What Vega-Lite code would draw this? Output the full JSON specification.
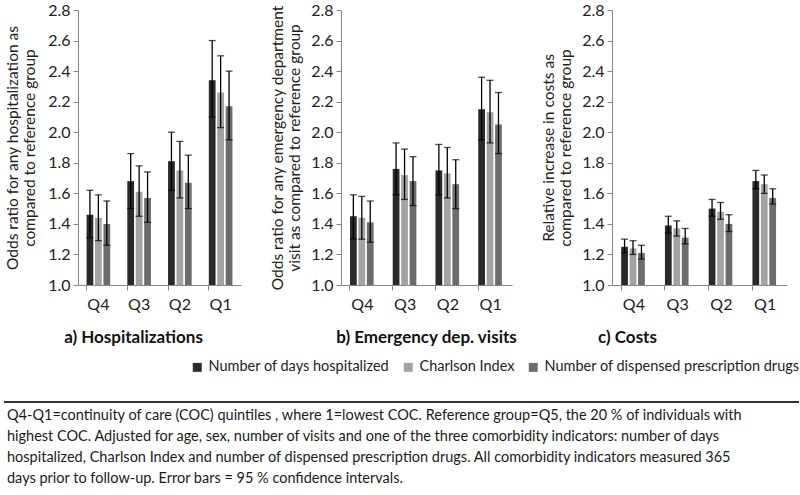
{
  "$schema": "https://vega.github.io/schema/vega-lite/v6.json",
  "padding": {"left": 3, "top": 2, "right": 0, "bottom": 0},
  "background": "white",
  "config": {
    "font": "Lato",
    "view": {"stroke": null},
    "axis": {
      "grid": false,
      "domainColor": "#868686",
      "tickColor": "#868686",
      "labelColor": "#222222",
      "titleColor": "#222222",
      "labelFont": "Lato",
      "titleFont": "Lato",
      "labelFontSize": 16,
      "titleFontSize": 15.5,
      "titleFontWeight": "normal",
      "tickSize": 5
    },
    "axisY": {"labelOverlap": false, "titlePadding": 10, "labelPadding": 3},
    "title": {"font": "Lato", "fontSize": 17, "fontWeight": "bold", "color": "#111111"}
  },
  "datasets": {
    "d": [
      {"panel": "a", "q": "Q4", "ind": "Number of days hospitalized", "v": 1.46, "lo": 1.31, "hi": 1.62},
      {"panel": "a", "q": "Q4", "ind": "Charlson Index", "v": 1.44, "lo": 1.29, "hi": 1.59},
      {"panel": "a", "q": "Q4", "ind": "Number of dispensed prescription drugs", "v": 1.40, "lo": 1.26, "hi": 1.55},
      {"panel": "a", "q": "Q3", "ind": "Number of days hospitalized", "v": 1.68, "lo": 1.50, "hi": 1.86},
      {"panel": "a", "q": "Q3", "ind": "Charlson Index", "v": 1.61, "lo": 1.45, "hi": 1.78},
      {"panel": "a", "q": "Q3", "ind": "Number of dispensed prescription drugs", "v": 1.57, "lo": 1.41, "hi": 1.74},
      {"panel": "a", "q": "Q2", "ind": "Number of days hospitalized", "v": 1.81, "lo": 1.62, "hi": 2.00},
      {"panel": "a", "q": "Q2", "ind": "Charlson Index", "v": 1.75, "lo": 1.57, "hi": 1.94},
      {"panel": "a", "q": "Q2", "ind": "Number of dispensed prescription drugs", "v": 1.67, "lo": 1.50, "hi": 1.85},
      {"panel": "a", "q": "Q1", "ind": "Number of days hospitalized", "v": 2.34, "lo": 2.10, "hi": 2.60},
      {"panel": "a", "q": "Q1", "ind": "Charlson Index", "v": 2.26, "lo": 2.03, "hi": 2.50},
      {"panel": "a", "q": "Q1", "ind": "Number of dispensed prescription drugs", "v": 2.17, "lo": 1.95, "hi": 2.40},
      {"panel": "b", "q": "Q4", "ind": "Number of days hospitalized", "v": 1.45, "lo": 1.30, "hi": 1.59},
      {"panel": "b", "q": "Q4", "ind": "Charlson Index", "v": 1.44, "lo": 1.30, "hi": 1.58},
      {"panel": "b", "q": "Q4", "ind": "Number of dispensed prescription drugs", "v": 1.41, "lo": 1.28, "hi": 1.55},
      {"panel": "b", "q": "Q3", "ind": "Number of days hospitalized", "v": 1.76, "lo": 1.59, "hi": 1.93},
      {"panel": "b", "q": "Q3", "ind": "Charlson Index", "v": 1.72, "lo": 1.56, "hi": 1.89},
      {"panel": "b", "q": "Q3", "ind": "Number of dispensed prescription drugs", "v": 1.68, "lo": 1.52, "hi": 1.84},
      {"panel": "b", "q": "Q2", "ind": "Number of days hospitalized", "v": 1.75, "lo": 1.59, "hi": 1.92},
      {"panel": "b", "q": "Q2", "ind": "Charlson Index", "v": 1.73, "lo": 1.57, "hi": 1.90},
      {"panel": "b", "q": "Q2", "ind": "Number of dispensed prescription drugs", "v": 1.66, "lo": 1.50, "hi": 1.82},
      {"panel": "b", "q": "Q1", "ind": "Number of days hospitalized", "v": 2.15, "lo": 1.95, "hi": 2.36},
      {"panel": "b", "q": "Q1", "ind": "Charlson Index", "v": 2.13, "lo": 1.93, "hi": 2.34},
      {"panel": "b", "q": "Q1", "ind": "Number of dispensed prescription drugs", "v": 2.05, "lo": 1.86, "hi": 2.26},
      {"panel": "c", "q": "Q4", "ind": "Number of days hospitalized", "v": 1.25, "lo": 1.21, "hi": 1.30},
      {"panel": "c", "q": "Q4", "ind": "Charlson Index", "v": 1.24, "lo": 1.20, "hi": 1.29},
      {"panel": "c", "q": "Q4", "ind": "Number of dispensed prescription drugs", "v": 1.21, "lo": 1.17, "hi": 1.26},
      {"panel": "c", "q": "Q3", "ind": "Number of days hospitalized", "v": 1.39, "lo": 1.34, "hi": 1.45},
      {"panel": "c", "q": "Q3", "ind": "Charlson Index", "v": 1.37, "lo": 1.32, "hi": 1.42},
      {"panel": "c", "q": "Q3", "ind": "Number of dispensed prescription drugs", "v": 1.31, "lo": 1.27, "hi": 1.37},
      {"panel": "c", "q": "Q2", "ind": "Number of days hospitalized", "v": 1.50, "lo": 1.45, "hi": 1.56},
      {"panel": "c", "q": "Q2", "ind": "Charlson Index", "v": 1.48, "lo": 1.43, "hi": 1.54},
      {"panel": "c", "q": "Q2", "ind": "Number of dispensed prescription drugs", "v": 1.40, "lo": 1.35, "hi": 1.46},
      {"panel": "c", "q": "Q1", "ind": "Number of days hospitalized", "v": 1.68, "lo": 1.63, "hi": 1.75},
      {"panel": "c", "q": "Q1", "ind": "Charlson Index", "v": 1.66, "lo": 1.60, "hi": 1.72},
      {"panel": "c", "q": "Q1", "ind": "Number of dispensed prescription drugs", "v": 1.57, "lo": 1.53, "hi": 1.63}
    ],
    "note": [
      {"line": 1, "text": "Q4-Q1=continuity of care (COC) quintiles , where 1=lowest COC. Reference group=Q5, the 20 % of individuals with"},
      {"line": 2, "text": "highest COC. Adjusted for age, sex, number of visits and one of the three comorbidity indicators: number of days"},
      {"line": 3, "text": "hospitalized, Charlson Index and number of dispensed prescription drugs. All comorbidity indicators measured 365"},
      {"line": 4, "text": "days prior to follow-up. Error bars = 95 % confidence intervals."}
    ]
  },
  "spacing": 55,
  "vconcat": [
    {
      "hconcat": [
        {
          "width": 163, "height": 275,
          "data": {"name": "d"},
          "transform": [{"filter": "datum.panel === 'a'"}],
          "title": {"text": "a) Hospitalizations", "orient": "bottom", "offset": 18, "dx": -26},
          "encoding": {
            "x": {"field": "q", "type": "nominal", "sort": ["Q4", "Q3", "Q2", "Q1"], "scale": {"paddingInner": 0.42, "paddingOuter": 0.21},
                  "axis": {"title": null, "labelAngle": 0, "bandPosition": 0, "labelPadding": 6}},
            "xOffset": {"field": "ind", "type": "nominal", "sort": ["Number of days hospitalized", "Charlson Index", "Number of dispensed prescription drugs"], "scale": {"paddingInner": 0.2}}
          },
          "layer": [
            {"mark": {"type": "bar"},
             "encoding": {
               "y": {"field": "v", "type": "quantitative", "scale": {"domain": [1, 2.8], "zero": false, "nice": false},
                     "axis": {"title": ["Odds ratio for any hospitalization as", "compared to reference group"], "values": [1, 1.2, 1.4, 1.6, 1.8, 2, 2.2, 2.4, 2.6, 2.8], "format": ".1f"}},
               "y2": {"datum": 1},
               "color": {"field": "ind", "type": "nominal", "sort": ["Number of days hospitalized", "Charlson Index", "Number of dispensed prescription drugs"],
                         "scale": {"domain": ["Number of days hospitalized", "Charlson Index", "Number of dispensed prescription drugs"], "range": ["#2a2a2a", "#a3a3a3", "#6c6c6c"]},
                         "legend": {"title": null, "orient": "none", "direction": "horizontal", "legendX": 112, "legendY": 350, "symbolType": "square", "symbolSize": 80, "symbolStrokeWidth": 0, "labelFontSize": 14.5, "labelLimit": 0, "labelColor": "#222222", "columnPadding": 11, "labelOffset": 4}}
             }},
            {"mark": {"type": "rule", "color": "#000000", "strokeWidth": 1.3},
             "encoding": {"y": {"field": "lo", "type": "quantitative", "axis": {"title": ["Odds ratio for any hospitalization as", "compared to reference group"], "values": [1, 1.2, 1.4, 1.6, 1.8, 2, 2.2, 2.4, 2.6, 2.8], "format": ".1f"}}, "y2": {"field": "hi"}}},
            {"mark": {"type": "tick", "color": "#000000", "thickness": 1.3, "size": 7},
             "encoding": {"y": {"field": "lo", "type": "quantitative", "axis": {"title": ["Odds ratio for any hospitalization as", "compared to reference group"], "values": [1, 1.2, 1.4, 1.6, 1.8, 2, 2.2, 2.4, 2.6, 2.8], "format": ".1f"}}}},
            {"mark": {"type": "tick", "color": "#000000", "thickness": 1.3, "size": 7},
             "encoding": {"y": {"field": "hi", "type": "quantitative", "axis": {"title": ["Odds ratio for any hospitalization as", "compared to reference group"], "values": [1, 1.2, 1.4, 1.6, 1.8, 2, 2.2, 2.4, 2.6, 2.8], "format": ".1f"}}}}
          ]
        },
        {
          "width": 171, "height": 275,
          "data": {"name": "d"},
          "transform": [{"filter": "datum.panel === 'b'"}],
          "title": {"text": "b) Emergency dep. visits", "orient": "bottom", "offset": 18, "dx": 0},
          "encoding": {
            "x": {"field": "q", "type": "nominal", "sort": ["Q4", "Q3", "Q2", "Q1"], "scale": {"paddingInner": 0.42, "paddingOuter": 0.21},
                  "axis": {"title": null, "labelAngle": 0, "bandPosition": 0, "labelPadding": 6}},
            "xOffset": {"field": "ind", "type": "nominal", "sort": ["Number of days hospitalized", "Charlson Index", "Number of dispensed prescription drugs"], "scale": {"paddingInner": 0.2}}
          },
          "layer": [
            {"mark": {"type": "bar"},
             "encoding": {
               "y": {"field": "v", "type": "quantitative", "scale": {"domain": [1, 2.8], "zero": false, "nice": false},
                     "axis": {"title": ["Odds ratio for any emergency department", "visit as compared to reference group"], "values": [1, 1.2, 1.4, 1.6, 1.8, 2, 2.2, 2.4, 2.6, 2.8], "format": ".1f", "titlePadding": 8}},
               "y2": {"datum": 1},
               "color": {"field": "ind", "type": "nominal", "sort": ["Number of days hospitalized", "Charlson Index", "Number of dispensed prescription drugs"],
                         "scale": {"domain": ["Number of days hospitalized", "Charlson Index", "Number of dispensed prescription drugs"], "range": ["#2a2a2a", "#a3a3a3", "#6c6c6c"]}}
             }},
            {"mark": {"type": "rule", "color": "#000000", "strokeWidth": 1.3},
             "encoding": {"y": {"field": "lo", "type": "quantitative", "axis": {"title": ["Odds ratio for any emergency department", "visit as compared to reference group"], "values": [1, 1.2, 1.4, 1.6, 1.8, 2, 2.2, 2.4, 2.6, 2.8], "format": ".1f", "titlePadding": 8}}, "y2": {"field": "hi"}}},
            {"mark": {"type": "tick", "color": "#000000", "thickness": 1.3, "size": 7},
             "encoding": {"y": {"field": "lo", "type": "quantitative", "axis": {"title": ["Odds ratio for any emergency department", "visit as compared to reference group"], "values": [1, 1.2, 1.4, 1.6, 1.8, 2, 2.2, 2.4, 2.6, 2.8], "format": ".1f", "titlePadding": 8}}}},
            {"mark": {"type": "tick", "color": "#000000", "thickness": 1.3, "size": 7},
             "encoding": {"y": {"field": "hi", "type": "quantitative", "axis": {"title": ["Odds ratio for any emergency department", "visit as compared to reference group"], "values": [1, 1.2, 1.4, 1.6, 1.8, 2, 2.2, 2.4, 2.6, 2.8], "format": ".1f", "titlePadding": 8}}}}
          ]
        },
        {
          "width": 175, "height": 275,
          "data": {"name": "d"},
          "transform": [{"filter": "datum.panel === 'c'"}],
          "title": {"text": "c) Costs", "orient": "bottom", "offset": 18, "dx": -72},
          "encoding": {
            "x": {"field": "q", "type": "nominal", "sort": ["Q4", "Q3", "Q2", "Q1"], "scale": {"paddingInner": 0.42, "paddingOuter": 0.21},
                  "axis": {"title": null, "labelAngle": 0, "bandPosition": 0, "labelPadding": 6}},
            "xOffset": {"field": "ind", "type": "nominal", "sort": ["Number of days hospitalized", "Charlson Index", "Number of dispensed prescription drugs"], "scale": {"paddingInner": 0.2}}
          },
          "layer": [
            {"mark": {"type": "bar"},
             "encoding": {
               "y": {"field": "v", "type": "quantitative", "scale": {"domain": [1, 2.8], "zero": false, "nice": false},
                     "axis": {"title": ["Relative increase in costs as", "compared to reference group"], "values": [1, 1.2, 1.4, 1.6, 1.8, 2, 2.2, 2.4, 2.6, 2.8], "format": ".1f", "titlePadding": 8}},
               "y2": {"datum": 1},
               "color": {"field": "ind", "type": "nominal", "sort": ["Number of days hospitalized", "Charlson Index", "Number of dispensed prescription drugs"],
                         "scale": {"domain": ["Number of days hospitalized", "Charlson Index", "Number of dispensed prescription drugs"], "range": ["#2a2a2a", "#a3a3a3", "#6c6c6c"]}}
             }},
            {"mark": {"type": "rule", "color": "#000000", "strokeWidth": 1.3},
             "encoding": {"y": {"field": "lo", "type": "quantitative", "axis": {"title": ["Relative increase in costs as", "compared to reference group"], "values": [1, 1.2, 1.4, 1.6, 1.8, 2, 2.2, 2.4, 2.6, 2.8], "format": ".1f", "titlePadding": 8}}, "y2": {"field": "hi"}}},
            {"mark": {"type": "tick", "color": "#000000", "thickness": 1.3, "size": 7},
             "encoding": {"y": {"field": "lo", "type": "quantitative", "axis": {"title": ["Relative increase in costs as", "compared to reference group"], "values": [1, 1.2, 1.4, 1.6, 1.8, 2, 2.2, 2.4, 2.6, 2.8], "format": ".1f", "titlePadding": 8}}}},
            {"mark": {"type": "tick", "color": "#000000", "thickness": 1.3, "size": 7},
             "encoding": {"y": {"field": "hi", "type": "quantitative", "axis": {"title": ["Relative increase in costs as", "compared to reference group"], "values": [1, 1.2, 1.4, 1.6, 1.8, 2, 2.2, 2.4, 2.6, 2.8], "format": ".1f", "titlePadding": 8}}}}
          ]
        }
      ],
      "spacing": 100,
      "bounds": "flush"
    },
    {
      "width": 721, "height": 95,
      "data": {"name": "note"},
      "layer": [
        {"mark": {"type": "text", "align": "left", "baseline": "middle", "fontSize": 14.5, "color": "#1a1a1a", "font": "Lato"},
         "encoding": {
           "x": {"datum": -0.0985, "type": "quantitative", "scale": {"domain": [0, 1], "nice": false, "zero": false}, "axis": null},
           "y": {"field": "line", "type": "quantitative", "scale": {"domain": [0.333, 4.857], "reverse": true, "nice": false, "zero": false}, "axis": null},
           "text": {"field": "text"}
         }},
        {"mark": {"type": "rule", "color": "#333333", "strokeWidth": 1.6},
         "encoding": {
           "x": {"datum": -0.1026, "type": "quantitative"},
           "x2": {"datum": 1},
           "y": {"datum": 0.333, "type": "quantitative"}
         }},
        {"mark": {"type": "rule", "color": "#333333", "strokeWidth": 1.6},
         "encoding": {
           "x": {"datum": -0.1026, "type": "quantitative"},
           "x2": {"datum": 1},
           "y": {"datum": 4.857, "type": "quantitative"}
         }}
      ]
    }
  ]
}
